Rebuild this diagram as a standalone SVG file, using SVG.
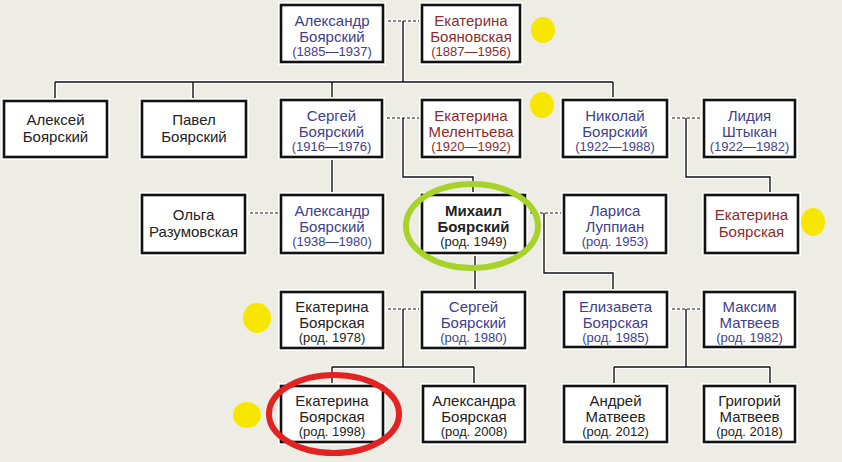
<svg xmlns="http://www.w3.org/2000/svg" width="842" height="462" viewBox="0 0 842 462">
<style>
.bg{fill:#eeede5}
.halo{fill:#ffffff}
.box{fill:#ffffff;stroke:#111;stroke-width:2.6}
.lh{fill:none;stroke:#fff;stroke-width:4}
.ln{fill:none;stroke:#111;stroke-width:1.4}
.dh{fill:none;stroke:#fff;stroke-width:3}
.dl{fill:none;stroke:#111;stroke-width:1;stroke-dasharray:3,2}
text{font-family:"Liberation Sans",Arial,sans-serif;text-anchor:middle}
.n{font-size:15px}
.d{font-size:13px}
.b{fill:#3e418c}
.r{fill:#8e2b2b}
.k{fill:#222}
.bold{font-weight:bold}
.dot{fill:#f7e600}
</style>
<rect class="bg" x="0" y="0" width="842" height="462"/>
<g id="connectors">
<path class="lh" d="M403,21V82M55,82H613M55,82V101M193,82V101M332,82V100M613,82V100M403,118V177H473V195M686,118V177H770V195M332,157V195M544,213V273H613V292M475,253V292M403,309V367M332,367H474M332,367V386M474,367V386M686,309V367M614,367H770M614,367V386M770,367V386"/>
<path class="dh" d="M383,21H422M382,118H422M667,118H704M245,213H281M525,213H564M383,309H422M667,309H704"/>
<path class="ln" d="M403,21V82M55,82H613M55,82V101M193,82V101M332,82V100M613,82V100M403,118V177H473V195M686,118V177H770V195M332,157V195M544,213V273H613V292M475,253V292M403,309V367M332,367H474M332,367V386M474,367V386M686,309V367M614,367H770M614,367V386M770,367V386"/>
<path class="dl" d="M383,21H422M382,118H422M667,118H704M245,213H281M525,213H564M383,309H422M667,309H704"/>
</g>
<g id="n-aleksandr-1885"><rect class="halo" x="278" y="2" width="108" height="63"/><rect class="box" x="281" y="5" width="102" height="57"/><text class="n b" x="332" y="26">Александр</text><text class="n b" x="332" y="42">Боярский</text><text class="d b" x="332" y="56">(1885—1937)</text></g>
<g id="n-ekaterina-boyanovskaya"><rect class="halo" x="419" y="2" width="104" height="63"/><rect class="box" x="422" y="5" width="98" height="57"/><text class="n r" x="471" y="26">Екатерина</text><text class="n r" x="471" y="42">Бояновская</text><text class="d r" x="471" y="56">(1887—1956)</text></g>
<g id="n-aleksey"><rect class="halo" x="1" y="98" width="109" height="62"/><rect class="box" x="4" y="101" width="103" height="56"/><text class="n k" x="55.5" y="125">Алексей</text><text class="n k" x="55.5" y="142">Боярский</text></g>
<g id="n-pavel"><rect class="halo" x="139" y="98" width="110" height="62"/><rect class="box" x="142" y="101" width="104" height="56"/><text class="n k" x="194" y="125">Павел</text><text class="n k" x="194" y="142">Боярский</text></g>
<g id="n-sergey-1916"><rect class="halo" x="278" y="97" width="107" height="63"/><rect class="box" x="281" y="100" width="101" height="57"/><text class="n b" x="331.5" y="121">Сергей</text><text class="n b" x="331.5" y="137">Боярский</text><text class="d b" x="331.5" y="151">(1916—1976)</text></g>
<g id="n-ekaterina-melenteva"><rect class="halo" x="419" y="97" width="104" height="63"/><rect class="box" x="422" y="100" width="98" height="57"/><text class="n r" x="471" y="121">Екатерина</text><text class="n r" x="471" y="137">Мелентьева</text><text class="d r" x="471" y="151">(1920—1992)</text></g>
<g id="n-nikolay"><rect class="halo" x="560" y="97" width="110" height="63"/><rect class="box" x="563" y="100" width="104" height="57"/><text class="n b" x="615" y="121">Николай</text><text class="n b" x="615" y="137">Боярский</text><text class="d b" x="615" y="151">(1922—1988)</text></g>
<g id="n-lidiya"><rect class="halo" x="701" y="97" width="97" height="63"/><rect class="box" x="704" y="100" width="91" height="57"/><text class="n b" x="749.5" y="121">Лидия</text><text class="n b" x="749.5" y="137">Штыкан</text><text class="d b" x="749.5" y="151">(1922—1982)</text></g>
<g id="n-olga"><rect class="halo" x="139" y="192" width="109" height="64"/><rect class="box" x="142" y="195" width="103" height="58"/><text class="n k" x="193.5" y="220">Ольга</text><text class="n k" x="193.5" y="237">Разумовская</text></g>
<g id="n-aleksandr-1938"><rect class="halo" x="278" y="192" width="108" height="64"/><rect class="box" x="281" y="195" width="102" height="58"/><text class="n b" x="332" y="216">Александр</text><text class="n b" x="332" y="232">Боярский</text><text class="d b" x="332" y="246">(1938—1980)</text></g>
<g id="n-mikhail"><rect class="halo" x="419" y="192" width="109" height="64"/><rect class="box" x="422" y="195" width="103" height="58"/><text class="n k bold" x="473.5" y="216">Михаил</text><text class="n k bold" x="473.5" y="232">Боярский</text><text class="d k" x="473.5" y="246">(род. 1949)</text></g>
<g id="n-larisa"><rect class="halo" x="561" y="192" width="108" height="64"/><rect class="box" x="564" y="195" width="102" height="58"/><text class="n b" x="615" y="216">Лариса</text><text class="n b" x="615" y="232">Луппиан</text><text class="d b" x="615" y="246">(род. 1953)</text></g>
<g id="n-ekaterina-boyarskaya-r3"><rect class="halo" x="702" y="192" width="99" height="64"/><rect class="box" x="705" y="195" width="93" height="58"/><text class="n r" x="751.5" y="220">Екатерина</text><text class="n r" x="751.5" y="237">Боярская</text></g>
<g id="n-ekaterina-1978"><rect class="halo" x="278" y="289" width="108" height="62"/><rect class="box" x="281" y="292" width="102" height="56"/><text class="n k" x="332" y="312">Екатерина</text><text class="n k" x="332" y="328">Боярская</text><text class="d k" x="332" y="342">(род. 1978)</text></g>
<g id="n-sergey-1980"><rect class="halo" x="419" y="289" width="109" height="62"/><rect class="box" x="422" y="292" width="103" height="56"/><text class="n b" x="473.5" y="312">Сергей</text><text class="n b" x="473.5" y="328">Боярский</text><text class="d b" x="473.5" y="342">(род. 1980)</text></g>
<g id="n-elizaveta"><rect class="halo" x="561" y="289" width="109" height="61"/><rect class="box" x="564" y="292" width="103" height="55"/><text class="n b" x="615.5" y="312">Елизавета</text><text class="n b" x="615.5" y="328">Боярская</text><text class="d b" x="615.5" y="342">(род. 1985)</text></g>
<g id="n-maksim"><rect class="halo" x="701" y="289" width="97" height="61"/><rect class="box" x="704" y="292" width="91" height="55"/><text class="n b" x="749.5" y="312">Максим</text><text class="n b" x="749.5" y="328">Матвеев</text><text class="d b" x="749.5" y="342">(род. 1982)</text></g>
<g id="n-ekaterina-1998"><rect class="halo" x="278" y="383" width="108" height="62"/><rect class="box" x="281" y="386" width="102" height="56"/><text class="n k" x="332" y="406">Екатерина</text><text class="n k" x="332" y="422">Боярская</text><text class="d k" x="332" y="436">(род. 1998)</text></g>
<g id="n-aleksandra"><rect class="halo" x="420" y="383" width="108" height="62"/><rect class="box" x="423" y="386" width="102" height="56"/><text class="n k" x="474" y="406">Александра</text><text class="n k" x="474" y="422">Боярская</text><text class="d k" x="474" y="436">(род. 2008)</text></g>
<g id="n-andrey"><rect class="halo" x="561" y="383" width="109" height="62"/><rect class="box" x="564" y="386" width="103" height="56"/><text class="n k" x="615.5" y="406">Андрей</text><text class="n k" x="615.5" y="422">Матвеев</text><text class="d k" x="615.5" y="436">(род. 2012)</text></g>
<g id="n-grigoriy"><rect class="halo" x="701" y="383" width="97" height="62"/><rect class="box" x="704" y="386" width="91" height="56"/><text class="n k" x="749.5" y="406">Григорий</text><text class="n k" x="749.5" y="422">Матвеев</text><text class="d k" x="749.5" y="436">(род. 2018)</text></g>
<g id="marks">
<ellipse class="dot" cx="543" cy="30" rx="12" ry="13"/>
<ellipse class="dot" cx="542" cy="105" rx="12" ry="13"/>
<ellipse class="dot" cx="813" cy="222" rx="12" ry="14"/>
<ellipse class="dot" cx="257" cy="318" rx="14" ry="15"/>
<ellipse class="dot" cx="247" cy="415" rx="14" ry="13"/>
<ellipse cx="472" cy="226" rx="66" ry="42" fill="none" stroke="#a6d22a" stroke-width="6"/>
<ellipse cx="334" cy="414" rx="65" ry="39" fill="none" stroke="#e32222" stroke-width="6"/>
</g>
</svg>
